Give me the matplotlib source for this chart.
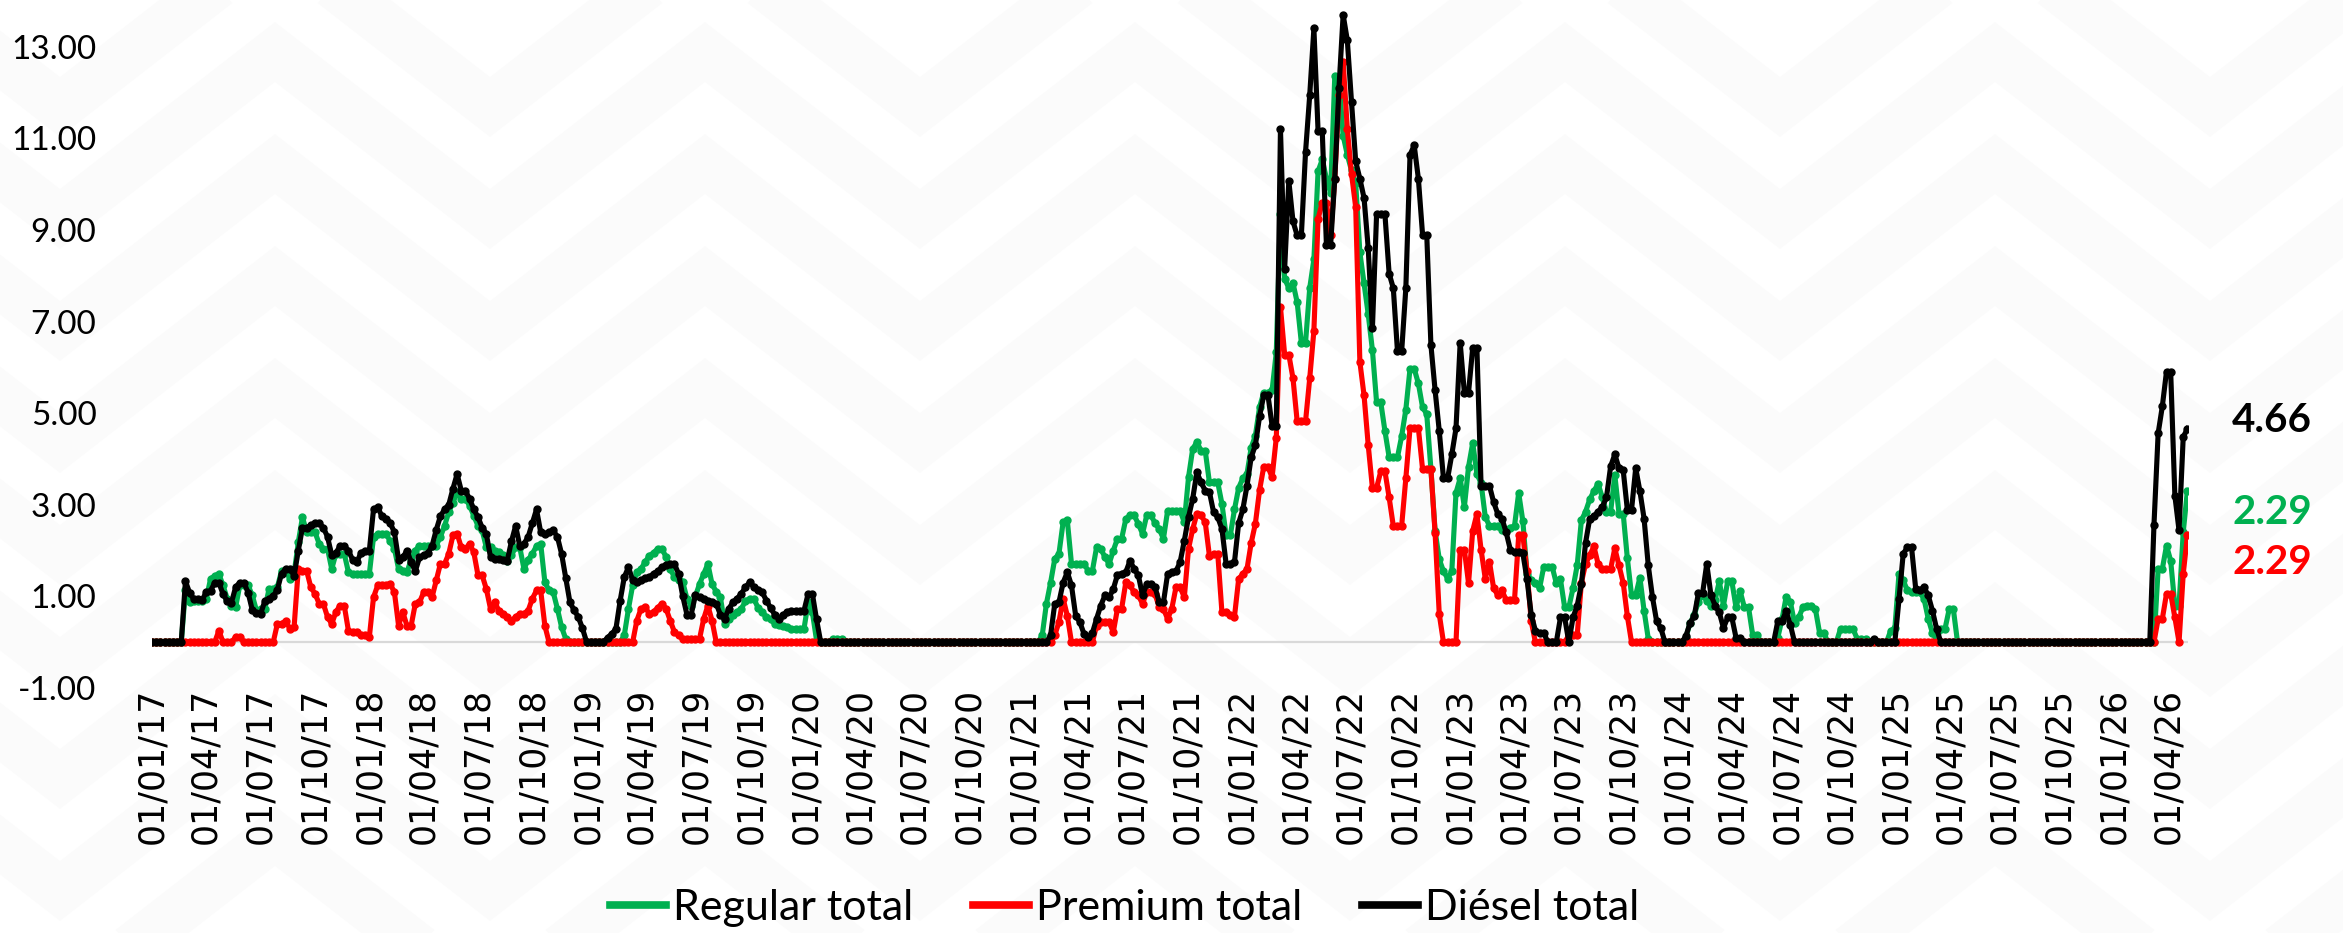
import matplotlib
matplotlib.use('Agg')
import matplotlib.pyplot as plt
import numpy as np
import pandas as pd

# weekly readings, first point on 01/01/2017
diesel = (
    [0, 0, 0, 0, 0, 0, 0, 0, 1.33, 1.08,
     0.94, 0.94, 0.92, 1.10, 1.12, 1.30, 1.30, 1.05, 0.90, 0.86,
     1.20, 1.30, 1.30, 1.08, 0.70, 0.64, 0.62, 0.90, 0.95, 1.00,
     1.15, 1.50, 1.60, 1.60, 1.45, 2.00, 2.50, 2.50, 2.55, 2.60,
     2.60, 2.50, 2.30, 1.90, 1.95, 2.10, 2.10, 2.00, 1.80, 1.75,
     1.95, 2.00, 2.00, 2.90, 2.95, 2.75, 2.70, 2.60, 2.40, 1.80,
     1.85, 2.00, 1.75, 1.55, 1.85, 1.90, 1.95, 2.10, 2.45, 2.75,
     2.90, 3.00, 3.35, 3.67, 3.31, 3.30, 3.13, 2.90, 2.73, 2.50,
     2.36, 1.85, 1.82, 1.82, 1.80, 1.78, 2.20, 2.54, 2.10, 2.15,
     2.30, 2.60, 2.90, 2.40, 2.36, 2.40, 2.44, 2.30, 1.93, 1.40,
     0.87, 0.70, 0.55, 0.30, 0, 0, 0, 0, 0, 0.10,
     0.18, 0.29, 0.90, 1.42, 1.64, 1.35, 1.31, 1.35, 1.40, 1.42,
     1.50, 1.55, 1.64, 1.68, 1.70, 1.71, 1.49, 1.00, 0.60, 0.60,
     1.02, 0.98, 0.95, 0.91, 0.88, 0.84, 0.60, 0.51, 0.73, 0.87,
     0.95, 1.06, 1.20, 1.31, 1.20, 1.15, 1.09, 0.91, 0.75, 0.60,
     0.51, 0.60, 0.66, 0.69, 0.69, 0.69, 0.69, 1.06, 1.06, 0.50]
    + [0] * 55
    + [0.15, 0.84, 0.87, 1.30, 1.53,
       1.24, 0.58, 0.44, 0.18, 0.11, 0.20, 0.51, 0.80, 1.02, 0.98,
       1.16, 1.47, 1.50, 1.53, 1.78, 1.60, 1.46, 1.02, 1.27, 1.27,
       1.20, 0.87, 0.87, 1.49, 1.53, 1.55, 1.75, 2.22, 2.73, 3.13,
       3.71, 3.49, 3.31, 3.28, 2.84, 2.73, 2.47, 1.71, 1.71, 1.75,
       2.60, 2.90, 3.42, 4.04, 4.30, 4.93, 5.39, 5.40, 4.73, 4.72,
       11.20, 8.15, 10.07, 9.19, 8.88, 8.88, 10.70, 11.94, 13.40, 11.16,
       11.16, 8.67, 8.67, 10.12, 12.10, 13.70, 13.14, 11.80, 10.50, 10.12,
       9.70, 8.60, 6.85, 9.34, 9.34, 9.34, 8.05, 7.73, 6.35, 6.35,
       7.73, 10.64, 10.85, 10.12, 8.90, 8.90, 6.49, 5.50, 4.61, 3.58,
       3.58, 4.10, 4.67, 6.54, 5.45, 5.45, 6.43, 6.43, 3.42, 3.42,
       3.42, 3.06, 2.80, 2.70, 2.40, 2.02, 1.96, 1.96, 1.94, 1.37,
       0.60, 0.25, 0.19, 0.20, 0, 0, 0, 0.54, 0.54, 0,
       0.54, 0.80, 1.26, 2.17, 2.70, 2.75, 2.85, 2.95, 3.16, 3.84,
       4.10, 3.80, 3.76, 2.89, 2.89, 3.80, 3.30, 2.70, 1.68, 0.99,
       0.46, 0.31, 0, 0, 0, 0, 0, 0.13, 0.42, 0.57,
       1.07, 1.07, 1.71, 1.03, 0.80, 0.65, 0.31, 0.54, 0.54, 0.10,
       0.10, 0, 0, 0, 0, 0, 0, 0, 0, 0.46,
       0.46, 0.68, 0.38, 0, 0, 0, 0, 0, 0, 0,
       0, 0, 0, 0, 0, 0, 0, 0, 0, 0,
       0, 0, 0.06, 0, 0, 0, 0, 0, 0.94, 1.93,
       2.07, 2.07, 1.16, 1.13, 1.20, 1.02, 0.69, 0.29, 0, 0]
    + [0] * 49
    + [2.56, 4.56, 5.15, 5.91, 5.90, 3.20, 2.44, 4.48, 4.66]
)

regular = (
    [0, 0, 0, 0, 0, 0, 0, 0, 1.13, 0.87,
     0.90, 0.90, 0.90, 0.95, 1.38, 1.45, 1.49, 1.24, 0.95, 0.80,
     0.76, 1.24, 1.24, 1.24, 1.02, 0.69, 0.73, 0.73, 1.16, 1.16,
     1.20, 1.56, 1.56, 1.38, 1.50, 2.18, 2.73, 2.40, 2.40, 2.40,
     2.15, 2.04, 2.04, 1.60, 1.93, 1.93, 1.93, 1.53, 1.49, 1.49,
     1.49, 1.49, 1.49, 2.29, 2.37, 2.37, 2.37, 2.20, 2.04, 1.60,
     1.55, 1.53, 1.80, 2.00, 2.11, 2.11, 2.11, 2.11, 2.11, 2.30,
     2.54, 2.84, 3.05, 3.27, 3.13, 3.13, 2.98, 2.76, 2.54, 2.44,
     2.07, 2.07, 2.00, 1.96, 1.90, 1.78, 1.90, 2.07, 2.07, 1.60,
     1.80, 1.93, 2.10, 2.15, 1.31, 1.13, 1.09, 0.73, 0.33, 0.07]
    + [0] * 13
    + [0.15, 0.73, 1.24, 1.53, 1.60, 1.75, 1.89,
       1.95, 2.04, 2.04, 1.86, 1.60, 1.42, 1.35, 1.31, 0.95, 0.80,
       1.00, 1.27, 1.49, 1.71, 1.27, 1.10, 0.98, 0.40, 0.51, 0.60,
       0.66, 0.73, 0.90, 0.95, 0.95, 0.75, 0.66, 0.55, 0.50, 0.40,
       0.38, 0.36, 0.33, 0.29, 0.29, 0.29, 0.29, 0.87, 0.66, 0.04,
       0, 0, 0, 0.07, 0.07, 0.07, 0, 0, 0, 0]
    + [0] * 43
    + [0.15, 0.84, 1.30, 1.82, 1.93, 2.62, 2.66,
       1.71, 1.71, 1.71, 1.71, 1.56, 1.56, 2.07, 2.04, 1.86, 1.71,
       2.00, 2.26, 2.26, 2.69, 2.77, 2.77, 2.58, 2.37, 2.77, 2.77,
       2.60, 2.47, 2.26, 2.87, 2.87, 2.87, 2.87, 2.62, 3.60, 4.22,
       4.37, 4.18, 4.18, 3.49, 3.49, 3.49, 3.02, 2.33, 2.33, 2.90,
       3.37, 3.58, 3.68, 4.25, 4.51, 5.13, 5.45, 5.45, 5.50, 6.33,
       9.35, 7.94, 7.73, 7.84, 7.42, 6.54, 6.54, 7.73, 8.36, 10.28,
       10.54, 10.12, 9.81, 12.36, 12.30, 11.06, 10.64, 10.30, 10.02, 8.51,
       7.84, 7.16, 6.38, 5.24, 5.24, 4.61, 4.04, 4.04, 4.04, 4.50,
       5.08, 5.97, 5.97, 5.65, 5.13, 4.98, 3.78, 2.43, 1.81, 1.55,
       1.39, 1.55, 3.26, 3.58, 2.95, 3.83, 4.35, 3.68, 3.47, 2.74,
       2.54, 2.54, 2.54, 2.45, 2.45, 2.50, 2.54, 3.26, 2.64, 1.50,
       1.35, 1.29, 1.18, 1.65, 1.65, 1.65, 1.29, 1.37, 0.76, 0.76,
       1.18, 1.68, 2.66, 2.85, 3.12, 3.30, 3.46, 3.16, 2.85, 2.85,
       3.65, 2.81, 2.81, 1.83, 1.03, 1.03, 1.41, 0.69, 0.08, 0,
       0, 0, 0, 0, 0, 0, 0, 0.10, 0.42, 0.60,
       0.88, 1.03, 0.90, 0.80, 0.92, 1.33, 0.80, 1.33, 1.33, 0.76,
       1.11, 0.76, 0.76, 0.15, 0.15, 0, 0, 0, 0, 0.10,
       0.50, 0.99, 0.88, 0.42, 0.54, 0.76, 0.80, 0.80, 0.72, 0.20,
       0.20, 0, 0, 0, 0.29, 0.29, 0.29, 0.29, 0.07, 0.07,
       0.07, 0, 0, 0, 0, 0, 0.25, 0.30, 1.50, 1.35,
       1.13, 1.09, 1.09, 1.09, 0.94, 0.51, 0.20, 0.06, 0.29, 0.29,
       0.72, 0.72]
    + [0] * 48
    + [1.60, 1.60, 2.11, 1.78, 0.80, 0.80, 2.40, 3.31]
)

premium = (
    [0] * 16
    + [0.25, 0, 0, 0, 0.11, 0.11, 0, 0, 0, 0, 0, 0, 0, 0,
       0.40, 0.40, 0.47, 0.29, 0.33, 1.60, 1.56, 1.56, 1.20, 1.06,
       0.84, 0.84, 0.55, 0.40, 0.66, 0.80, 0.80, 0.25, 0.22, 0.22,
       0.15, 0.15, 0.11, 0.98, 1.24, 1.24, 1.24, 1.27, 1.09, 0.36,
       0.66, 0.36, 0.36, 0.84, 0.87, 1.09, 1.09, 0.98, 1.35, 1.71,
       1.71, 1.93, 2.33, 2.37, 2.07, 2.04, 2.15, 1.96, 1.46, 1.46,
       1.16, 0.73, 0.87, 0.69, 0.62, 0.55, 0.47, 0.55, 0.62, 0.62,
       0.69, 0.95, 1.13, 1.13, 0.36, 0, 0, 0, 0, 0]
    + [0] * 16
    + [0.47, 0.73, 0.76, 0.62,
       0.66, 0.75, 0.84, 0.73, 0.47, 0.22, 0.15, 0.07, 0.07, 0.07,
       0.07, 0.07, 0.51, 0.80, 0.47]
    + [0] * 81
    + [0.15, 0.44, 0.95, 0.58,
       0, 0, 0, 0, 0, 0, 0.36, 0.44, 0.44, 0.44,
       0.22, 0.73, 0.73, 1.31, 1.24, 1.09, 1.02, 0.84, 1.09, 1.09,
       1.05, 0.76, 0.73, 0.51, 0.73, 1.20, 1.20, 0.98, 2.04, 2.47,
       2.80, 2.77, 2.62, 1.89, 1.93, 1.93, 0.65, 0.65, 0.60, 0.56,
       1.38, 1.49, 1.60, 2.17, 2.59, 3.32, 3.83, 3.83, 3.60, 4.46,
       7.32, 6.28, 6.28, 5.76, 4.82, 4.82, 4.82, 5.76, 6.80, 9.24,
       9.60, 9.60, 8.88, 10.12, 11.94, 12.67, 11.20, 10.23, 9.50, 6.12,
       5.39, 4.30, 3.37, 3.37, 3.73, 3.73, 3.16, 2.54, 2.54, 2.54,
       3.58, 4.67, 4.67, 4.67, 3.78, 3.78, 3.78, 2.38, 0.61, 0,
       0, 0, 0, 2.02, 2.02, 1.29, 2.43, 2.80, 2.02, 1.39,
       1.76, 1.18, 1.03, 1.13, 0.92, 0.92, 0.92, 2.33, 2.33, 1.55,
       0.46, 0, 0, 0, 0, 0, 0, 0, 0, 0.15,
       0.15, 0.15, 1.30, 1.71, 1.90, 2.09, 1.71, 1.60, 1.60, 1.60,
       2.05, 1.68, 1.30, 0.57]
    + [0] * 125
    + [0, 0.51, 0.51, 1.06, 1.06, 0.54, 0, 1.49, 2.33]
)

series_names = ['Regular total', 'Premium total', 'Diésel total']
series_colors = ['#00B050', '#FF0000', '#000000']
end_labels = ['2.29', '2.29', '4.66']

yticks = [-1, 1, 3, 5, 7, 9, 11, 13]
tick_dates = pd.date_range('2017-01-01', '2026-04-01', freq='QS')

W, H = 2343, 933
fig = plt.figure(figsize=(W / 100, H / 100), dpi=100)

# very faint chevron watermark behind everything
bg = fig.add_axes([0, 0, 1, 1], zorder=-5)
bg.set_xlim(0, W)
bg.set_ylim(H, 0)
bg.axis('off')
period, drop = 430, 167
xs = np.arange(275 - 3 * period, W + 2 * period, period / 2)
for j in range(-3, 12):
    ys = [(-60 + 112 * j) + (drop if k % 2 else 0) for k in range(len(xs))]
    bg.plot(xs, ys, color='#fbfbfb', lw=34, solid_joinstyle='miter', zorder=0)

ax = fig.add_axes([152 / W, (H - 688) / H, (2188 - 152) / W, 687 / H])
ax.set_facecolor('none')

for vals, name, col in zip([regular, premium, diesel], series_names, series_colors):
    d = pd.date_range('2017-01-01', periods=len(vals), freq='7D')
    ax.plot(d, vals, color=col, lw=3.7, marker='o', ms=5, label=name,
            solid_joinstyle='round', zorder=3)

dates = pd.date_range('2017-01-01', periods=len(diesel), freq='7D')
ax.axhline(0, color='#d9d9d9', lw=1.6, zorder=1)
ax.set_xlim(dates[0], dates[-1] + pd.Timedelta(days=1))
ax.set_ylim(-1, 14)

ax.set_yticks(yticks)
ax.set_yticklabels([f'{v:.2f}' for v in yticks], fontsize=24, family='Lato')
ax.set_xticks(tick_dates)
ax.set_xticklabels([d.strftime('%d/%m/%y') for d in tick_dates], rotation=90,
                   fontsize=25, family='DejaVu Sans')
ax.tick_params(axis='y', length=0, pad=40)
ax.tick_params(axis='x', length=0, pad=0)
for s in ax.spines.values():
    s.set_visible(False)

# end-of-series value labels
label_y = [513, 562, 421]
for txt, col, yy in zip(end_labels, series_colors, label_y):
    fig.text(2232 / W, 1 - yy / H, txt, color=col, fontsize=29,
             fontweight='bold', family='Lato', ha='left', va='center')

leg_handles = [plt.Line2D([], [], color=c, lw=5.5) for c in series_colors]
fig.legend(leg_handles, series_names, loc='center', bbox_to_anchor=(0.48, 0.027),
           ncol=3, frameon=False, prop={'family': 'Lato', 'size': 31},
           handlelength=1.3, handletextpad=0.15, columnspacing=1.4)

fig.savefig('out.png', dpi=100)
